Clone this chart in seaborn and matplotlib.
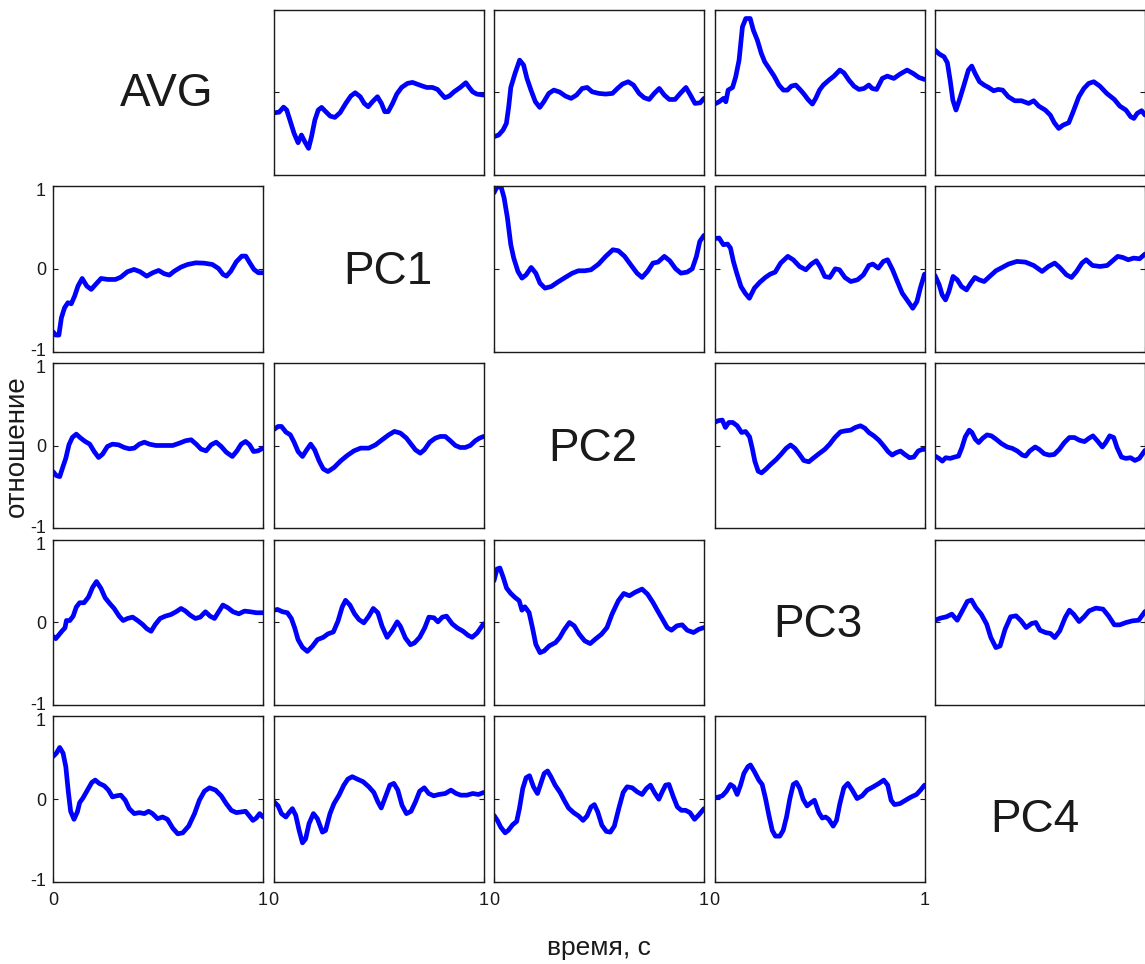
import numpy as np
import pandas as pd
import matplotlib
matplotlib.use("Agg")
import matplotlib.pyplot as plt
import matplotlib.transforms as mtransforms
import seaborn as sns

sns.set_theme(style="white")
plt.rcParams["font.family"] = ["Liberation Sans", "DejaVu Sans"]

# Component names along the diagonal
names = ["AVG", "PC1", "PC2", "PC3", "PC4"]
x_label = "время, с"
y_label = "отношение"
y_ticks = [-1, 0, 1]
y_tick_labels = ["-1", "0", "1"]
x_ticks = [0, 1]
x_tick_labels = ["0", "1"]

# ---- row AVG ----
avg_pc1_t = [0.00, 0.027, 0.048, 0.063, 0.083, 0.098, 0.117, 0.133, 0.149, 0.167, 0.181, 0.197, 0.213, 0.229, 0.249, 0.27, 0.292, 0.317, 0.344, 0.368, 0.389, 0.413, 0.432, 0.451, 0.471, 0.495, 0.514, 0.53, 0.546, 0.567, 0.587, 0.61, 0.638, 0.662, 0.683, 0.71, 0.73, 0.757, 0.781, 0.8, 0.816, 0.837, 0.86, 0.889, 0.916, 0.932, 0.948, 0.968, 1.0]
avg_pc1_v = [-0.25, -0.24, -0.18, -0.215, -0.376, -0.497, -0.61, -0.517, -0.598, -0.678, -0.537, -0.336, -0.215, -0.183, -0.235, -0.288, -0.304, -0.247, -0.135, -0.046, -0.006, -0.054, -0.135, -0.175, -0.115, -0.054, -0.135, -0.235, -0.235, -0.135, -0.022, 0.058, 0.107, 0.119, 0.099, 0.074, 0.058, 0.058, 0.034, -0.022, -0.066, -0.046, 0.006, 0.058, 0.115, 0.058, 0.006, -0.022, -0.034]

avg_pc2_t = [0.0, 0.022, 0.043, 0.059, 0.07, 0.08, 0.1, 0.122, 0.141, 0.157, 0.176, 0.197, 0.218, 0.237, 0.261, 0.285, 0.313, 0.34, 0.367, 0.393, 0.42, 0.444, 0.467, 0.499, 0.531, 0.564, 0.588, 0.612, 0.639, 0.664, 0.691, 0.715, 0.739, 0.763, 0.787, 0.811, 0.835, 0.862, 0.887, 0.914, 0.935, 0.957, 0.982, 1.0]
avg_pc2_v = [-0.537, -0.517, -0.457, -0.376, -0.175, 0.058, 0.227, 0.388, 0.328, 0.167, 0.026, -0.115, -0.183, -0.115, -0.014, 0.026, 0.002, -0.046, -0.074, -0.034, 0.046, 0.058, 0.006, -0.014, -0.022, -0.014, 0.046, 0.099, 0.127, 0.087, -0.014, -0.066, -0.087, -0.014, 0.046, -0.034, -0.087, -0.087, -0.014, 0.058, -0.034, -0.135, -0.127, -0.074]

avg_pc3_t = [0.0, 0.022, 0.043, 0.054, 0.065, 0.086, 0.101, 0.117, 0.133, 0.149, 0.17, 0.185, 0.204, 0.223, 0.239, 0.26, 0.284, 0.307, 0.328, 0.347, 0.366, 0.387, 0.407, 0.426, 0.445, 0.466, 0.482, 0.5, 0.518, 0.545, 0.569, 0.597, 0.616, 0.64, 0.664, 0.688, 0.712, 0.735, 0.751, 0.772, 0.799, 0.823, 0.854, 0.883, 0.917, 0.946, 0.973, 1.0]
avg_pc3_v = [-0.143, -0.115, -0.074, -0.115, 0.026, 0.058, 0.187, 0.388, 0.79, 0.891, 0.891, 0.75, 0.63, 0.469, 0.368, 0.288, 0.195, 0.087, 0.026, 0.026, 0.074, 0.087, 0.034, -0.022, -0.087, -0.143, -0.074, 0.026, 0.087, 0.147, 0.195, 0.268, 0.235, 0.147, 0.074, 0.034, 0.046, 0.087, 0.046, 0.034, 0.167, 0.195, 0.167, 0.219, 0.268, 0.227, 0.179, 0.155]

avg_pc4_t = [0.0, 0.021, 0.043, 0.059, 0.072, 0.085, 0.1, 0.116, 0.138, 0.159, 0.175, 0.191, 0.212, 0.234, 0.255, 0.279, 0.301, 0.322, 0.349, 0.38, 0.412, 0.446, 0.47, 0.494, 0.525, 0.549, 0.568, 0.589, 0.61, 0.637, 0.658, 0.685, 0.709, 0.732, 0.756, 0.785, 0.818, 0.854, 0.88, 0.909, 0.932, 0.947, 0.963, 0.984, 1.0]
avg_pc4_v = [0.509, 0.461, 0.429, 0.356, 0.147, -0.095, -0.215, -0.095, 0.087, 0.268, 0.316, 0.227, 0.127, 0.087, 0.058, 0.018, 0.034, 0.026, -0.054, -0.103, -0.103, -0.135, -0.103, -0.167, -0.215, -0.276, -0.368, -0.437, -0.397, -0.368, -0.235, -0.054, 0.046, 0.107, 0.127, 0.074, -0.014, -0.087, -0.167, -0.215, -0.296, -0.316, -0.255, -0.223, -0.276]

# ---- row PC1 ----
pc1_avg_t = [0.0, 0.013, 0.028, 0.04, 0.055, 0.071, 0.087, 0.103, 0.119, 0.139, 0.161, 0.182, 0.206, 0.229, 0.261, 0.297, 0.323, 0.354, 0.386, 0.415, 0.446, 0.475, 0.503, 0.53, 0.554, 0.578, 0.609, 0.641, 0.68, 0.72, 0.759, 0.788, 0.81, 0.826, 0.847, 0.873, 0.899, 0.918, 0.937, 0.957, 0.978, 1.0]
pc1_avg_v = [-0.759, -0.799, -0.799, -0.59, -0.469, -0.408, -0.421, -0.328, -0.207, -0.115, -0.207, -0.247, -0.179, -0.115, -0.127, -0.127, -0.099, -0.034, -0.006, -0.034, -0.087, -0.046, -0.018, -0.058, -0.074, -0.026, 0.022, 0.054, 0.074, 0.07, 0.054, 0.006, -0.066, -0.087, -0.026, 0.087, 0.155, 0.155, 0.074, -0.006, -0.046, -0.046]

pc1_pc2_t = [0.0, 0.014, 0.034, 0.048, 0.064, 0.08, 0.094, 0.114, 0.133, 0.153, 0.177, 0.199, 0.219, 0.243, 0.273, 0.303, 0.339, 0.373, 0.402, 0.432, 0.462, 0.498, 0.532, 0.566, 0.592, 0.622, 0.651, 0.681, 0.705, 0.731, 0.757, 0.781, 0.811, 0.837, 0.865, 0.89, 0.92, 0.944, 0.964, 0.98, 1.0]
pc1_pc2_v = [0.92, 0.99, 0.99, 0.86, 0.616, 0.293, 0.131, -0.03, -0.111, -0.071, 0.018, -0.051, -0.172, -0.232, -0.212, -0.16, -0.103, -0.051, -0.022, -0.022, -0.01, 0.059, 0.152, 0.232, 0.22, 0.152, 0.051, -0.051, -0.103, -0.03, 0.071, 0.083, 0.152, 0.099, 0.002, -0.051, -0.038, 0.002, 0.152, 0.333, 0.406]

pc1_pc3_t = [0.0, 0.022, 0.042, 0.062, 0.076, 0.09, 0.106, 0.126, 0.146, 0.166, 0.19, 0.216, 0.242, 0.265, 0.289, 0.315, 0.349, 0.375, 0.405, 0.435, 0.461, 0.485, 0.505, 0.525, 0.549, 0.575, 0.595, 0.621, 0.649, 0.681, 0.709, 0.735, 0.754, 0.78, 0.804, 0.824, 0.848, 0.874, 0.894, 0.92, 0.944, 0.964, 0.98, 1.0]
pc1_pc3_v = [0.366, 0.374, 0.293, 0.301, 0.253, 0.091, -0.051, -0.212, -0.293, -0.354, -0.232, -0.16, -0.103, -0.063, -0.038, 0.071, 0.152, 0.111, 0.03, -0.01, 0.059, 0.099, 0.018, -0.091, -0.103, 0.002, -0.01, -0.103, -0.152, -0.131, -0.071, 0.042, 0.059, 0.01, 0.091, 0.111, -0.01, -0.172, -0.293, -0.386, -0.475, -0.394, -0.232, -0.063]

pc1_pc4_t = [0.0, 0.02, 0.034, 0.05, 0.066, 0.086, 0.106, 0.126, 0.15, 0.17, 0.19, 0.21, 0.234, 0.26, 0.29, 0.32, 0.35, 0.39, 0.43, 0.47, 0.51, 0.54, 0.57, 0.594, 0.626, 0.65, 0.674, 0.7, 0.72, 0.75, 0.786, 0.82, 0.846, 0.87, 0.894, 0.92, 0.946, 0.974, 1.0]
pc1_pc4_v = [-0.079, -0.192, -0.313, -0.374, -0.273, -0.091, -0.131, -0.212, -0.253, -0.172, -0.103, -0.131, -0.152, -0.091, -0.022, 0.018, 0.059, 0.091, 0.083, 0.042, -0.03, 0.03, 0.071, 0.018, -0.071, -0.103, -0.03, 0.071, 0.111, 0.042, 0.03, 0.042, 0.099, 0.152, 0.139, 0.111, 0.131, 0.123, 0.18]

# ---- row PC2 ----
pc2_avg_t = [0.0, 0.016, 0.032, 0.045, 0.061, 0.076, 0.092, 0.111, 0.132, 0.153, 0.175, 0.196, 0.217, 0.236, 0.259, 0.283, 0.312, 0.339, 0.363, 0.387, 0.411, 0.435, 0.459, 0.49, 0.53, 0.57, 0.602, 0.631, 0.658, 0.682, 0.705, 0.729, 0.753, 0.777, 0.801, 0.825, 0.854, 0.876, 0.896, 0.917, 0.936, 0.955, 0.976, 1.0]
pc2_avg_v = [-0.313, -0.362, -0.374, -0.273, -0.152, 0.01, 0.099, 0.139, 0.091, 0.051, 0.018, -0.071, -0.143, -0.103, -0.01, 0.018, 0.01, -0.022, -0.038, -0.03, 0.018, 0.042, 0.018, 0.002, 0.002, 0.002, 0.03, 0.059, 0.071, 0.018, -0.042, -0.063, 0.01, 0.042, -0.01, -0.079, -0.131, -0.063, 0.018, 0.051, 0.01, -0.071, -0.063, -0.03]

pc2_pc1_t = [0.0, 0.022, 0.038, 0.059, 0.08, 0.098, 0.117, 0.138, 0.158, 0.177, 0.196, 0.217, 0.237, 0.259, 0.288, 0.32, 0.351, 0.383, 0.415, 0.454, 0.486, 0.517, 0.549, 0.576, 0.604, 0.633, 0.655, 0.676, 0.699, 0.718, 0.744, 0.771, 0.794, 0.818, 0.842, 0.866, 0.889, 0.913, 0.937, 0.961, 0.981, 1.0]
pc2_pc1_v = [0.192, 0.232, 0.232, 0.164, 0.131, 0.042, -0.071, -0.131, -0.051, 0.018, -0.051, -0.184, -0.281, -0.313, -0.265, -0.184, -0.119, -0.063, -0.03, -0.03, 0.01, 0.071, 0.131, 0.172, 0.152, 0.091, 0.018, -0.051, -0.091, -0.051, 0.042, 0.091, 0.111, 0.111, 0.059, 0.002, -0.022, -0.022, 0.002, 0.059, 0.091, 0.111]

pc2_pc3_t = [0.0, 0.017, 0.037, 0.052, 0.068, 0.087, 0.108, 0.129, 0.148, 0.167, 0.179, 0.192, 0.208, 0.224, 0.243, 0.267, 0.294, 0.319, 0.341, 0.362, 0.383, 0.405, 0.425, 0.449, 0.473, 0.497, 0.525, 0.548, 0.573, 0.6, 0.624, 0.648, 0.671, 0.695, 0.716, 0.735, 0.759, 0.783, 0.806, 0.827, 0.846, 0.865, 0.886, 0.906, 0.929, 0.949, 0.97, 0.989, 1.0]
pc2_pc3_v = [0.28, 0.301, 0.309, 0.22, 0.28, 0.28, 0.24, 0.159, 0.171, 0.106, -0.024, -0.187, -0.309, -0.329, -0.289, -0.228, -0.167, -0.098, -0.033, 0.008, -0.033, -0.106, -0.179, -0.195, -0.146, -0.098, -0.045, 0.016, 0.098, 0.167, 0.179, 0.187, 0.22, 0.24, 0.211, 0.159, 0.118, 0.065, -0.004, -0.073, -0.114, -0.085, -0.065, -0.106, -0.146, -0.138, -0.065, -0.045, -0.045]

pc2_pc4_t = [0.0, 0.019, 0.035, 0.051, 0.072, 0.093, 0.112, 0.128, 0.144, 0.163, 0.176, 0.192, 0.208, 0.227, 0.248, 0.269, 0.291, 0.317, 0.344, 0.368, 0.392, 0.416, 0.432, 0.451, 0.477, 0.496, 0.52, 0.544, 0.568, 0.592, 0.616, 0.64, 0.664, 0.688, 0.712, 0.733, 0.752, 0.771, 0.797, 0.813, 0.832, 0.851, 0.867, 0.888, 0.909, 0.931, 0.952, 0.973, 1.0]
pc2_pc4_v = [-0.126, -0.154, -0.187, -0.146, -0.154, -0.138, -0.126, -0.024, 0.106, 0.187, 0.159, 0.077, 0.037, 0.089, 0.13, 0.118, 0.077, 0.024, -0.016, -0.033, -0.065, -0.114, -0.126, -0.065, -0.016, -0.045, -0.098, -0.114, -0.106, -0.045, 0.037, 0.098, 0.098, 0.065, 0.049, 0.089, 0.118, 0.065, -0.016, 0.037, 0.118, 0.098, -0.024, -0.138, -0.154, -0.146, -0.179, -0.154, -0.057]

# ---- row PC3 ----
pc3_avg_t = [0.0, 0.013, 0.029, 0.045, 0.057, 0.064, 0.08, 0.096, 0.111, 0.127, 0.148, 0.169, 0.188, 0.207, 0.228, 0.248, 0.271, 0.291, 0.315, 0.334, 0.355, 0.379, 0.403, 0.427, 0.446, 0.467, 0.487, 0.51, 0.535, 0.562, 0.586, 0.61, 0.631, 0.653, 0.678, 0.701, 0.726, 0.748, 0.769, 0.791, 0.809, 0.833, 0.857, 0.885, 0.912, 0.939, 0.968, 1.0]
pc3_avg_v = [-0.168, -0.197, -0.148, -0.099, -0.067, 0.022, 0.022, 0.075, 0.185, 0.237, 0.237, 0.306, 0.42, 0.493, 0.412, 0.298, 0.225, 0.168, 0.075, 0.022, 0.047, 0.063, 0.022, -0.026, -0.075, -0.108, -0.026, 0.047, 0.075, 0.095, 0.128, 0.168, 0.136, 0.087, 0.047, 0.063, 0.128, 0.075, 0.047, 0.136, 0.209, 0.176, 0.128, 0.103, 0.136, 0.128, 0.116, 0.116]

pc3_pc1_t = [0.0, 0.019, 0.043, 0.066, 0.085, 0.101, 0.117, 0.138, 0.161, 0.185, 0.209, 0.237, 0.259, 0.285, 0.307, 0.327, 0.343, 0.364, 0.386, 0.407, 0.43, 0.454, 0.475, 0.497, 0.517, 0.541, 0.565, 0.589, 0.604, 0.628, 0.652, 0.671, 0.696, 0.72, 0.74, 0.764, 0.783, 0.804, 0.824, 0.851, 0.875, 0.903, 0.926, 0.946, 0.97, 1.0]
pc3_pc1_v = [0.144, 0.156, 0.128, 0.116, 0.047, -0.067, -0.209, -0.302, -0.351, -0.29, -0.209, -0.181, -0.14, -0.116, 0.014, 0.185, 0.266, 0.209, 0.103, 0.034, -0.006, 0.075, 0.168, 0.116, -0.047, -0.181, -0.099, 0.006, -0.047, -0.189, -0.27, -0.249, -0.181, -0.067, 0.063, 0.055, 0.006, 0.063, 0.075, -0.018, -0.067, -0.108, -0.156, -0.181, -0.128, -0.018]

pc3_pc2_t = [0.0, 0.014, 0.028, 0.044, 0.06, 0.08, 0.1, 0.12, 0.133, 0.147, 0.167, 0.183, 0.199, 0.219, 0.239, 0.263, 0.293, 0.313, 0.333, 0.359, 0.382, 0.406, 0.432, 0.458, 0.482, 0.512, 0.538, 0.562, 0.592, 0.618, 0.645, 0.671, 0.705, 0.731, 0.757, 0.781, 0.805, 0.825, 0.845, 0.871, 0.896, 0.92, 0.95, 0.976, 1.0]
pc3_pc2_v = [0.503, 0.644, 0.657, 0.543, 0.414, 0.349, 0.301, 0.261, 0.147, 0.188, 0.119, -0.063, -0.265, -0.366, -0.345, -0.285, -0.244, -0.184, -0.095, -0.002, -0.042, -0.143, -0.224, -0.257, -0.204, -0.143, -0.063, 0.099, 0.261, 0.349, 0.321, 0.362, 0.402, 0.341, 0.24, 0.131, 0.026, -0.063, -0.095, -0.042, -0.03, -0.095, -0.123, -0.083, -0.063]

pc3_pc4_t = [0.0, 0.026, 0.054, 0.08, 0.106, 0.13, 0.154, 0.174, 0.194, 0.22, 0.246, 0.266, 0.29, 0.31, 0.334, 0.36, 0.386, 0.41, 0.434, 0.46, 0.48, 0.5, 0.526, 0.55, 0.57, 0.594, 0.62, 0.64, 0.66, 0.686, 0.71, 0.734, 0.766, 0.8, 0.826, 0.854, 0.88, 0.91, 0.94, 0.97, 1.0]
pc3_pc4_v = [0.026, 0.051, 0.067, 0.099, 0.026, 0.139, 0.253, 0.269, 0.18, 0.099, -0.022, -0.184, -0.305, -0.285, -0.083, 0.067, 0.079, 0.018, -0.063, -0.014, -0.002, -0.095, -0.123, -0.135, -0.184, -0.103, 0.059, 0.147, 0.099, 0.01, 0.067, 0.139, 0.172, 0.16, 0.079, -0.03, -0.03, -0.002, 0.018, 0.026, 0.131]

# ---- row PC4 ----
pc4_avg_t = [0.0, 0.016, 0.032, 0.048, 0.061, 0.073, 0.084, 0.1, 0.116, 0.127, 0.143, 0.164, 0.185, 0.201, 0.22, 0.244, 0.264, 0.283, 0.303, 0.323, 0.344, 0.363, 0.387, 0.411, 0.435, 0.455, 0.474, 0.498, 0.522, 0.545, 0.57, 0.594, 0.618, 0.646, 0.674, 0.697, 0.721, 0.745, 0.774, 0.801, 0.825, 0.849, 0.873, 0.896, 0.917, 0.933, 0.952, 0.968, 0.984, 1.0]
pc4_avg_v = [0.513, 0.554, 0.623, 0.554, 0.391, 0.087, -0.148, -0.245, -0.156, -0.043, 0.014, 0.108, 0.201, 0.229, 0.189, 0.16, 0.108, 0.026, 0.039, 0.047, -0.014, -0.116, -0.176, -0.164, -0.176, -0.148, -0.176, -0.237, -0.217, -0.245, -0.351, -0.42, -0.408, -0.327, -0.176, -0.014, 0.095, 0.136, 0.108, 0.039, -0.055, -0.136, -0.164, -0.156, -0.148, -0.197, -0.258, -0.229, -0.176, -0.217]

pc4_pc1_t = [0.0, 0.022, 0.038, 0.059, 0.074, 0.09, 0.106, 0.122, 0.138, 0.153, 0.169, 0.19, 0.209, 0.233, 0.248, 0.269, 0.288, 0.312, 0.335, 0.354, 0.375, 0.399, 0.427, 0.454, 0.478, 0.497, 0.513, 0.533, 0.554, 0.573, 0.592, 0.612, 0.633, 0.655, 0.676, 0.696, 0.718, 0.739, 0.763, 0.787, 0.818, 0.845, 0.87, 0.892, 0.921, 0.949, 0.976, 1.0]
pc4_pc1_v = [-0.026, -0.083, -0.176, -0.217, -0.164, -0.116, -0.197, -0.379, -0.529, -0.481, -0.298, -0.176, -0.237, -0.4, -0.379, -0.176, -0.055, 0.047, 0.168, 0.241, 0.27, 0.241, 0.209, 0.148, 0.079, -0.034, -0.108, 0.026, 0.168, 0.189, 0.108, -0.075, -0.176, -0.148, -0.034, 0.095, 0.136, 0.067, 0.039, 0.055, 0.067, 0.108, 0.067, 0.047, 0.047, 0.067, 0.055, 0.079]

pc4_pc2_t = [0.0, 0.016, 0.032, 0.053, 0.068, 0.089, 0.108, 0.121, 0.137, 0.153, 0.169, 0.188, 0.207, 0.223, 0.239, 0.255, 0.271, 0.291, 0.315, 0.334, 0.355, 0.379, 0.403, 0.424, 0.443, 0.462, 0.478, 0.494, 0.514, 0.535, 0.554, 0.573, 0.594, 0.615, 0.634, 0.658, 0.682, 0.705, 0.726, 0.745, 0.764, 0.785, 0.801, 0.817, 0.833, 0.854, 0.873, 0.892, 0.912, 0.933, 0.955, 0.976, 1.0]
pc4_pc2_v = [-0.197, -0.258, -0.339, -0.408, -0.379, -0.31, -0.27, -0.116, 0.128, 0.258, 0.282, 0.148, 0.067, 0.189, 0.31, 0.339, 0.27, 0.168, 0.079, -0.014, -0.108, -0.164, -0.205, -0.258, -0.205, -0.095, -0.067, -0.156, -0.318, -0.391, -0.4, -0.327, -0.116, 0.079, 0.148, 0.136, 0.087, 0.055, 0.128, 0.168, 0.079, -0.002, 0.087, 0.168, 0.176, 0.026, -0.095, -0.136, -0.136, -0.164, -0.245, -0.189, -0.116]

pc4_pc3_t = [0.0, 0.021, 0.037, 0.057, 0.076, 0.092, 0.108, 0.124, 0.14, 0.159, 0.171, 0.19, 0.211, 0.227, 0.243, 0.259, 0.275, 0.29, 0.311, 0.327, 0.343, 0.359, 0.375, 0.39, 0.406, 0.422, 0.441, 0.46, 0.476, 0.497, 0.513, 0.529, 0.544, 0.565, 0.581, 0.597, 0.616, 0.635, 0.656, 0.679, 0.703, 0.727, 0.756, 0.783, 0.806, 0.825, 0.841, 0.857, 0.883, 0.91, 0.937, 0.962, 0.981, 1.0]
pc4_pc3_v = [0.014, 0.026, 0.039, 0.095, 0.176, 0.148, 0.055, 0.168, 0.31, 0.391, 0.412, 0.331, 0.229, 0.176, 0.006, -0.197, -0.379, -0.448, -0.448, -0.379, -0.217, 0.006, 0.176, 0.201, 0.128, -0.002, -0.083, -0.043, -0.014, -0.164, -0.229, -0.217, -0.245, -0.327, -0.258, -0.055, 0.136, 0.189, 0.108, 0.006, 0.039, 0.108, 0.148, 0.189, 0.229, 0.168, -0.014, -0.067, -0.055, -0.014, 0.026, 0.055, 0.108, 0.168]

series = {
    (0, 1): (avg_pc1_t, avg_pc1_v), (0, 2): (avg_pc2_t, avg_pc2_v),
    (0, 3): (avg_pc3_t, avg_pc3_v), (0, 4): (avg_pc4_t, avg_pc4_v),
    (1, 0): (pc1_avg_t, pc1_avg_v), (1, 2): (pc1_pc2_t, pc1_pc2_v),
    (1, 3): (pc1_pc3_t, pc1_pc3_v), (1, 4): (pc1_pc4_t, pc1_pc4_v),
    (2, 0): (pc2_avg_t, pc2_avg_v), (2, 1): (pc2_pc1_t, pc2_pc1_v),
    (2, 3): (pc2_pc3_t, pc2_pc3_v), (2, 4): (pc2_pc4_t, pc2_pc4_v),
    (3, 0): (pc3_avg_t, pc3_avg_v), (3, 1): (pc3_pc1_t, pc3_pc1_v),
    (3, 2): (pc3_pc2_t, pc3_pc2_v), (3, 4): (pc3_pc4_t, pc3_pc4_v),
    (4, 0): (pc4_avg_t, pc4_avg_v), (4, 1): (pc4_pc1_t, pc4_pc1_v),
    (4, 2): (pc4_pc2_t, pc4_pc2_v), (4, 3): (pc4_pc3_t, pc4_pc3_v),
}

# ---- figure & grid geometry (pixels) ----
W, H = 1145, 964
fig = plt.figure(figsize=(W / 100, H / 100), dpi=100)
fig.patch.set_facecolor("white")

left0, col_step, cell_w = 53.0, 220.5, 210.0
top0, row_step, cell_h = 9.5, 176.7, 165.5
n = len(names)

# nudges (px) of the diagonal titles from their cell centres
title_shift = {0: (9, -2), 1: (9, -3), 2: (-6, -3), 3: (-2, -3), 4: (-5, -21)}


def cell_rect(i, j):
    x0 = left0 + j * col_step
    y0 = top0 + i * row_step
    return [x0 / W, 1 - (y0 + cell_h) / H, cell_w / W, cell_h / H]


ink = "#1a1a1a"
for i in range(n):
    for j in range(n):
        rect = cell_rect(i, j)
        if i == j:
            dx, dy = title_shift[i]
            fig.text(rect[0] + rect[2] / 2 + dx / W, rect[1] + rect[3] / 2 + dy / H,
                     names[i], ha="center", va="center", fontsize=33, color=ink)
            continue
        ax = fig.add_axes(rect)
        t, v = series[(i, j)]
        df = pd.DataFrame({"t": t, "v": v})
        sns.lineplot(data=df, x="t", y="v", ax=ax, color="#0000ff",
                     linewidth=3.4, estimator=None, sort=False)
        for ln in ax.get_lines():
            ln.set_solid_joinstyle("round")
            ln.set_solid_capstyle("round")
        ax.set_xlim(0, 1)
        ax.set_ylim(-1, 1)
        ax.set_xlabel("")
        ax.set_ylabel("")
        ax.set_facecolor("white")
        for s in ax.spines.values():
            s.set_visible(True)
            s.set_color(ink)
            s.set_linewidth(1.0)
        ax.set_yticks(y_ticks)
        ax.set_xticks(x_ticks)
        ax.tick_params(direction="in", length=3.5, width=0.8, color=ink,
                       left=True, right=True, top=True, bottom=True,
                       labelcolor=ink)
        ax.tick_params(axis="y", labelsize=13, pad=5)
        ax.tick_params(axis="x", labelsize=13, pad=7)
        if j == 0:
            ax.set_yticklabels(y_tick_labels)
            # keep the stacked "-1" / "1" labels of adjacent rows apart a little
            for lab, val in zip(ax.get_yticklabels(), y_ticks):
                if val == 1:
                    off = mtransforms.ScaledTranslation(0, -2.5 / 72, fig.dpi_scale_trans)
                    lab.set_transform(lab.get_transform() + off)
                elif val == -1:
                    off = mtransforms.ScaledTranslation(0, 1.5 / 72, fig.dpi_scale_trans)
                    lab.set_transform(lab.get_transform() + off)
        else:
            ax.set_yticklabels([])
        if i == n - 1:
            ax.set_xticklabels(x_tick_labels)
        else:
            ax.set_xticklabels([])

grid_cx = (left0 + ((n - 1) * col_step + cell_w) / 2) / W
grid_cy = 1 - (top0 + ((n - 1) * row_step + cell_h) / 2) / H
fig.text(grid_cx, 1 - 948 / H, x_label, ha="center", va="center",
         fontsize=19, color=ink)
fig.text(17 / W, grid_cy, y_label, ha="center", va="center", rotation=90,
         fontsize=20, color=ink)

fig.savefig("out.png", dpi=100, facecolor="white")
